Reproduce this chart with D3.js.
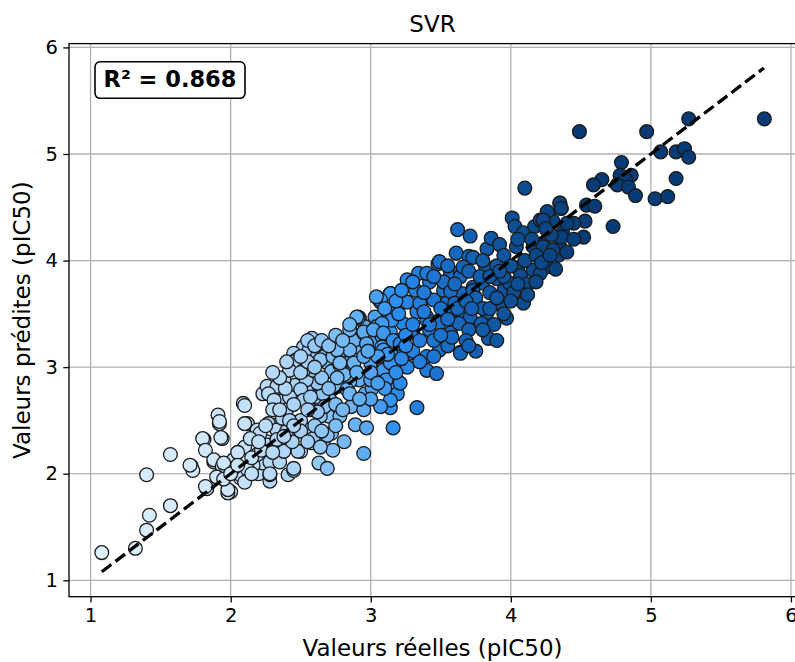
<!DOCTYPE html>
<html><head><meta charset="utf-8">
<script src="https://cdn.jsdelivr.net/npm/d3@7"></script>
<style>body{margin:0;background:#fff;} svg{display:block;font-family:"DejaVu Sans",sans-serif;}</style>
</head><body><svg id="chart" width="795" height="662"></svg>
<script>
const titleText = "SVR";
const xLabelText = "Valeurs réelles (pIC50)";
const yLabelText = "Valeurs prédites (pIC50)";
const r2Text = "R² = 0.868";
const xTicks = [1, 2, 3, 4, 5, 6];
const yTicks = [1, 2, 3, 4, 5, 6];
const axisDomain = [0.846, 6.036];
const identityEnds = [1.08, 5.807];

const actual = [
1.08,1.32,1.40,1.42,1.40,1.57,1.57,1.72,1.73,1.71,
1.83,1.82,1.81,1.80,1.82,1.91,1.92,1.92,1.94,1.93,
1.88,1.88,1.94,2.00,1.98,1.98,2.02,2.07,2.07,1.90,
2.09,2.10,2.12,2.10,2.10,2.19,2.20,2.28,2.28,2.23,
2.26,2.33,2.38,2.40,2.41,2.45,2.45,2.50,2.59,2.58,
2.66,2.72,2.70,2.81,2.89,2.73,2.63,2.19,2.21,2.27,
2.14,2.33,2.37,2.23,2.26,2.35,2.40,2.26,2.19,2.28,
2.16,2.12,2.28,2.35,2.38,2.48,2.44,2.33,2.47,2.54,
2.59,2.57,2.62,2.64,2.66,2.54,2.46,2.33,2.69,2.64,
2.69,2.95,2.97,3.16,3.33,3.14,2.02,1.95,2.05,2.15,
2.22,
2.58,2.52,2.45,2.47,2.45,2.56,2.62,2.67,2.69,2.72,
2.78,2.83,2.81,2.90,2.88,2.92,2.96,2.95,3.03,3.04,
3.02,3.08,3.11,3.14,3.19,3.07,3.13,3.16,3.08,3.04,
3.09,3.16,3.15,3.19,3.14,3.07,2.96,3.01,2.92,2.85,
2.88,2.81,2.76,2.83,2.86,2.78,2.71,2.66,2.62,2.54,
2.50,2.52,2.42,2.38,2.39,2.27,2.31,2.59,2.57,2.67,
2.62,2.76,2.52,2.42,2.64,2.73,2.91,3.05,3.14,
3.48,3.34,3.57,3.64,3.26,3.42,3.14,3.07,3.26,3.32,
3.40,3.52,3.54,3.65,3.73,3.76,3.66,3.40,3.49,3.33,
3.23,3.15,3.08,2.91,2.95,2.85,3.02,3.09,3.16,3.30,
3.42,3.57,3.64,3.49,3.40,3.28,3.21,3.09,2.97,2.85,
2.76,2.78,2.88,3.00,3.14,3.26,3.40,3.47,3.11,3.21,
3.00,3.04,2.90,3.84,3.90,
4.10,3.62,3.71,3.61,3.70,3.73,3.49,3.83,3.86,3.92,
4.01,4.03,4.04,4.09,4.17,4.21,4.27,4.35,4.36,4.30,
4.37,4.35,4.23,4.16,4.05,4.16,4.26,4.07,4.21,3.90,
4.09,3.95,3.99,3.80,3.73,3.64,3.52,3.40,3.66,3.82,
3.57,3.45,3.59,3.71,3.83,3.92,3.97,3.40,3.49,3.63,
3.79,3.64,4.09,
4.49,4.97,5.27,5.81,5.07,5.18,5.24,5.27,4.79,4.78,
4.86,4.82,4.76,4.84,4.65,4.59,4.89,5.03,5.12,5.18,
4.73,4.54,4.60,4.35,4.36,4.26,4.53,4.45,4.36,4.52,
4.23,4.23,4.34,4.40,4.29,
3.20,3.25,3.30,3.35,3.45,3.50,3.55,3.60,3.70,3.75,
3.80,3.85,3.88,3.95,4.00,4.02,4.10,4.12,4.18,4.25,
4.30,4.40,4.45,3.12,3.18,3.22,3.35,3.45,3.55,3.68,
3.75,3.30,3.38,3.60,3.70,3.80,3.90,3.95,4.05,4.15,
2.30,2.40,2.50,2.55,2.60,2.65,2.70,2.75,2.85,2.90,
2.95,3.00,3.05,2.35,2.45,2.50,2.55,2.60,2.95,3.00,
3.10,
2.30,2.40,2.50,2.55,2.60,2.65,2.70,2.75,2.80,2.85,
2.35,2.42,2.50,2.55,2.65,2.75,2.80,2.92,3.05,2.98,
1.95,2.00,2.05,2.10,2.15,2.20,2.25,2.30,2.38,2.45,
3.10,3.18,3.22,3.30,3.38,3.45,3.55,3.62,3.68,3.72,
3.85,3.90,3.95,4.00,4.05,4.12,4.18,4.22,4.28,4.32,
3.78,3.85,3.92,3.58,3.70,3.80,3.50,3.35,3.25,3.42
];

const predicted = [
1.26,1.30,1.47,1.61,1.99,1.70,2.18,2.07,2.03,2.08,
1.86,1.88,2.32,2.33,2.22,2.55,2.47,2.49,2.33,2.34,
2.11,2.13,2.07,1.83,1.82,1.85,2.13,1.96,1.99,1.97,
2.66,2.64,2.47,2.47,2.25,2.39,2.00,1.93,1.99,2.10,
2.30,2.46,2.57,2.30,1.99,2.03,2.05,2.21,2.41,2.29,
2.29,2.38,2.54,2.30,2.46,2.22,2.10,2.41,2.38,2.47,
2.33,2.41,2.52,2.75,2.82,2.68,2.60,2.27,2.18,2.11,
2.08,2.04,2.00,2.11,2.21,2.21,2.30,2.32,2.47,2.41,
2.33,2.60,2.72,2.54,2.82,2.79,2.83,2.82,2.36,2.25,
2.05,2.19,2.43,2.43,2.62,2.62,2.05,1.95,2.20,2.15,
2.22,
3.27,3.19,3.13,3.07,3.05,3.16,3.11,3.10,3.04,2.96,
3.02,3.11,3.16,3.19,3.25,3.46,3.38,3.32,3.47,3.38,
3.25,3.29,3.41,3.33,3.25,3.61,3.51,3.54,3.19,3.07,
2.97,3.10,2.85,2.75,2.69,2.63,2.75,2.80,2.88,2.86,
3.00,2.93,2.82,2.79,2.63,2.54,2.69,2.75,2.85,2.88,
2.79,2.69,2.72,2.88,2.80,2.75,2.69,2.97,2.72,2.63,
2.58,2.90,2.97,2.97,3.07,3.10,3.47,3.65,3.69,
3.97,3.88,3.88,3.90,3.82,3.80,3.69,3.63,3.61,3.72,
3.65,3.72,3.60,3.69,3.75,3.57,3.47,3.47,3.44,3.52,
3.41,3.44,3.41,3.46,3.33,3.35,3.35,3.32,3.25,3.32,
3.35,3.32,3.14,3.16,3.10,3.13,3.22,3.16,3.22,3.16,
3.16,3.04,3.04,3.04,3.04,3.00,2.97,2.94,2.88,2.85,
2.88,3.66,3.47,3.27,3.25,
4.68,4.29,4.23,4.07,4.04,4.03,3.99,4.11,4.21,4.15,
4.40,4.32,4.13,4.26,4.32,4.38,4.44,4.54,4.49,4.37,
4.26,4.13,4.16,4.13,3.93,3.91,3.94,3.86,3.88,3.83,
3.61,3.72,3.79,3.79,3.72,3.85,3.80,3.88,3.94,3.94,
3.71,3.63,3.54,3.47,3.51,3.60,3.46,3.44,3.41,3.41,
3.41,3.13,3.60,
5.21,5.21,5.33,5.33,5.02,5.02,5.05,4.97,4.92,4.80,
4.80,4.76,4.71,4.69,4.76,4.71,4.61,4.58,4.60,4.77,
4.32,4.52,4.51,4.54,4.49,4.46,4.37,4.35,4.22,4.22,
4.38,4.13,4.05,4.08,4.24,
3.50,3.30,3.15,3.60,3.25,3.55,3.45,3.60,3.35,3.65,
3.55,3.70,3.40,3.85,3.95,3.70,4.00,3.78,4.05,4.30,
4.10,4.35,4.20,3.12,2.95,3.08,3.05,3.10,3.20,3.25,
3.15,3.40,3.52,3.78,3.90,4.00,3.95,4.05,4.20,4.20,
2.60,2.40,2.50,2.60,2.45,2.90,2.80,2.65,2.75,2.95,
3.10,2.95,3.10,2.90,2.65,2.95,3.05,3.00,2.60,2.70,
2.80,
2.95,3.05,3.10,3.25,3.20,3.25,3.20,3.30,3.25,3.40,
2.60,2.50,2.40,2.30,2.40,2.45,2.60,2.70,2.85,3.15,
2.10,2.00,2.08,1.92,2.00,2.30,2.45,2.20,2.35,2.45,
3.55,3.62,3.72,3.80,3.70,3.85,3.95,3.55,3.62,3.55,
3.55,3.65,3.50,3.62,3.78,3.68,3.80,3.98,4.05,3.92,
3.85,3.85,3.90,3.28,3.20,3.35,3.30,3.25,3.20,3.40
];

// colour stops (style, not data)
const colorStops = [1.0, 2.0, 2.5, 2.9, 3.2, 3.6, 4.0, 4.5];
const colorValues = ["#e0f0ff","#cde6fc","#a8d1f8","#66b1f4","#2a8bee","#1768c0","#0d5096","#063b76"];

const plot = {left: 69, right: 796, top: 43.6, bottom: 596.7};
const svg = d3.select("#chart");

const x = d3.scaleLinear().domain(axisDomain).range([plot.left, plot.right]);
const y = d3.scaleLinear().domain(axisDomain).range([plot.bottom, plot.top]);
const color = d3.scaleLinear().domain(colorStops).range(colorValues).clamp(true);

const data = actual.map((a, i) => ({a, p: predicted[i]}));
if (actual.length !== predicted.length) console.error("length mismatch", actual.length, predicted.length);

svg.append("defs").append("clipPath").attr("id", "clip")
  .append("rect").attr("x", plot.left).attr("y", plot.top)
  .attr("width", plot.right - plot.left).attr("height", plot.bottom - plot.top);

// grid
const grid = svg.append("g").attr("stroke", "#b0b0b0").attr("stroke-width", 1.3);
grid.selectAll(".gx").data(xTicks).join("line")
  .attr("x1", d => x(d)).attr("x2", d => x(d)).attr("y1", plot.top).attr("y2", plot.bottom);
grid.selectAll(".gy").data(yTicks).join("line")
  .attr("y1", d => y(d)).attr("y2", d => y(d)).attr("x1", plot.left).attr("x2", plot.right);

// points
svg.append("g").attr("clip-path", "url(#clip)")
  .selectAll("circle").data(data).join("circle")
  .attr("cx", d => x(d.a)).attr("cy", d => y(d.p)).attr("r", 6.9)
  .attr("fill", d => color(d.a))
  .attr("stroke", "#1a1a1a").attr("stroke-width", 1.3);

// identity line
svg.append("line")
  .attr("x1", x(identityEnds[0])).attr("y1", y(identityEnds[0]))
  .attr("x2", x(identityEnds[1])).attr("y2", y(identityEnds[1]))
  .attr("stroke", "#000").attr("stroke-width", 3.3)
  .attr("stroke-dasharray", "12,5.2");

// axes
const xAxis = svg.append("g").attr("transform", `translate(0,${plot.bottom})`)
  .call(d3.axisBottom(x).tickValues(xTicks).tickFormat(d3.format("d")).tickSize(5.7).tickPadding(5.5));
const yAxis = svg.append("g").attr("transform", `translate(${plot.left},0)`)
  .call(d3.axisLeft(y).tickValues(yTicks).tickFormat(d3.format("d")).tickSize(5.7).tickPadding(5.5));
[xAxis, yAxis].forEach(g => {
  g.select(".domain").remove();
  g.selectAll(".tick line").attr("stroke", "#000").attr("stroke-width", 1.3);
  g.selectAll(".tick text").attr("fill", "#000").style("font-size", "19.5px").style("font-family", "DejaVu Sans");
});

// spines
svg.append("rect").attr("x", plot.left).attr("y", plot.top)
  .attr("width", plot.right - plot.left).attr("height", plot.bottom - plot.top)
  .attr("stroke", "#000").attr("stroke-width", 1.3).attr("fill", "none");

// title and labels
svg.append("text").attr("x", (plot.left + plot.right) / 2).attr("y", 32)
  .attr("text-anchor", "middle").style("font-size", "23px").text(titleText);
svg.append("text").attr("x", (plot.left + plot.right) / 2).attr("y", 656)
  .attr("text-anchor", "middle").style("font-size", "23px").text(xLabelText);
svg.append("text").attr("transform", `translate(30,${(plot.top + plot.bottom) / 2}) rotate(-90)`)
  .attr("text-anchor", "middle").style("font-size", "23px").text(yLabelText);

// R² box
const r2g = svg.append("g");
r2g.append("rect").attr("x", 95).attr("y", 61.8).attr("width", 150).attr("height", 36.5)
  .attr("rx", 5).attr("fill", "#fff").attr("stroke", "#000").attr("stroke-width", 1.6);
r2g.append("text").attr("x", 170).attr("y", 86.6).attr("text-anchor", "middle")
  .style("font-size", "22.5px").style("font-weight", "bold").text(r2Text);
</script>
</body></html>
